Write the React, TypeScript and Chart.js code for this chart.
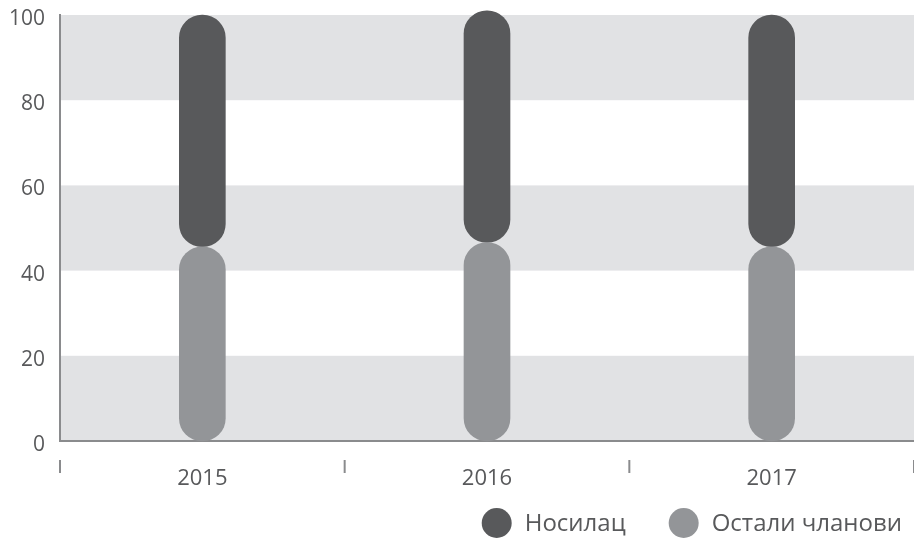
import { useEffect, useRef } from 'react';
import { Chart, registerables } from 'chart.js';

Chart.register(...registerables);

const years = ['2015', '2016', '2017'];
const seriesNames = ['Остали чланови', 'Носилац'];
const othersValues = [45.6, 46.6, 45.6];
const holderValues = [54.4, 54.4, 54.4];
const bandRanges = [[80, 100], [40, 60], [0, 20]];
const yMin = 0;
const yMax = 100;
const yStep = 20;

const DARK = '#58595b';
const LIGHT = '#939598';
const BAND = '#e1e2e4';
const AXIS = '#8a8b8d';
const TEXT = '#58595b';
const FONT = "'Open Sans', 'DejaVu Sans', sans-serif";
const PILL = { topLeft: 23, topRight: 23, bottomLeft: 23, bottomRight: 23 };

const bandsPlugin = {
  id: 'bands',
  beforeDraw(chart: any) {
    const { ctx, chartArea } = chart;
    const y = chart.scales.y;
    ctx.save();
    ctx.fillStyle = BAND;
    for (const [a, b] of bandRanges) {
      const top = y.getPixelForValue(b);
      const bottom = y.getPixelForValue(a);
      ctx.fillRect(chartArea.left, top, chartArea.right - chartArea.left, bottom - top);
    }
    ctx.restore();
  },
};

const catTicksPlugin = {
  id: 'catTicks',
  afterDraw(chart: any) {
    const { ctx, chartArea } = chart;
    const x = chart.scales.x;
    const n = chart.data.labels.length;
    const half = (x.getPixelForValue(1) - x.getPixelForValue(0)) / 2;
    ctx.save();
    ctx.strokeStyle = AXIS;
    ctx.lineWidth = 2;
    for (let i = 0; i <= n; i++) {
      const px = x.getPixelForValue(i) - half;
      ctx.beginPath();
      ctx.moveTo(px, chartArea.bottom + 19);
      ctx.lineTo(px, chartArea.bottom + 32);
      ctx.stroke();
    }
    ctx.restore();
  },
};

const legendPlugin = {
  id: 'customLegend',
  afterDraw(chart: any) {
    const { ctx, width } = chart;
    const datasets = [...chart.data.datasets].reverse();
    const fontSize = 24;
    const r = 15;
    const gapCircleText = 13;
    const gapItems = 43;
    const cy = 523;
    ctx.save();
    ctx.font = `${fontSize}px ${FONT}`;
    ctx.textBaseline = 'middle';
    ctx.textAlign = 'left';
    const widths = datasets.map((d: any) => ctx.measureText(d.label).width);
    let total = 0;
    widths.forEach((w: number, i: number) => {
      total += 2 * r + gapCircleText + w;
      if (i < widths.length - 1) total += gapItems;
    });
    let xPos = width - 12 - total;
    datasets.forEach((d: any, i: number) => {
      ctx.fillStyle = d.backgroundColor;
      ctx.beginPath();
      ctx.arc(xPos + r, cy, r, 0, Math.PI * 2);
      ctx.fill();
      xPos += 2 * r + gapCircleText;
      ctx.fillStyle = TEXT;
      ctx.fillText(d.label, xPos, cy + 1);
      xPos += widths[i] + gapItems;
    });
    ctx.restore();
  },
};

export default function App() {
  const canvasRef = useRef<HTMLCanvasElement | null>(null);

  useEffect(() => {
    if (!canvasRef.current) return;
    const chart = new Chart(canvasRef.current, {
      type: 'bar',
      data: {
        labels: years,
        datasets: [
          {
            label: seriesNames[0],
            data: othersValues,
            backgroundColor: LIGHT,
            barThickness: 46,
            borderRadius: PILL,
            borderSkipped: false,
            clip: false,
          } as any,
          {
            label: seriesNames[1],
            data: holderValues,
            backgroundColor: DARK,
            barThickness: 46,
            borderRadius: PILL,
            borderSkipped: false,
            clip: false,
          } as any,
        ],
      },
      options: {
        responsive: false,
        animation: false,
        layout: { padding: { top: 15, right: 0, bottom: 40, left: 0 } },
        plugins: {
          legend: { display: false },
          tooltip: { enabled: false },
        },
        scales: {
          x: {
            stacked: true,
            offset: true,
            grid: { display: false, drawTicks: false },
            border: { display: true, color: AXIS, width: 2 },
            ticks: { font: { family: FONT, size: 22 }, color: TEXT, padding: 25 },
            afterFit: (s: any) => {
              s.height = 58;
            },
          },
          y: {
            stacked: true,
            min: yMin,
            max: yMax,
            grid: { display: false, drawTicks: false },
            border: { display: true, color: AXIS, width: 2 },
            ticks: {
              stepSize: yStep,
              font: { family: FONT, size: 21 },
              color: TEXT,
              padding: 15,
              labelOffset: 4,
            },
            afterFit: (s: any) => {
              s.width = 60;
              s.paddingTop = 0;
              s.paddingBottom = 0;
            },
          },
        },
      },
      plugins: [bandsPlugin, catTicksPlugin, legendPlugin],
    });
    return () => chart.destroy();
  }, []);

  return (
    <div style={{ position: 'absolute', left: 0, top: 0, width: 914, height: 539 }}>
      <canvas ref={canvasRef} width={914} height={539} />
    </div>
  );
}
